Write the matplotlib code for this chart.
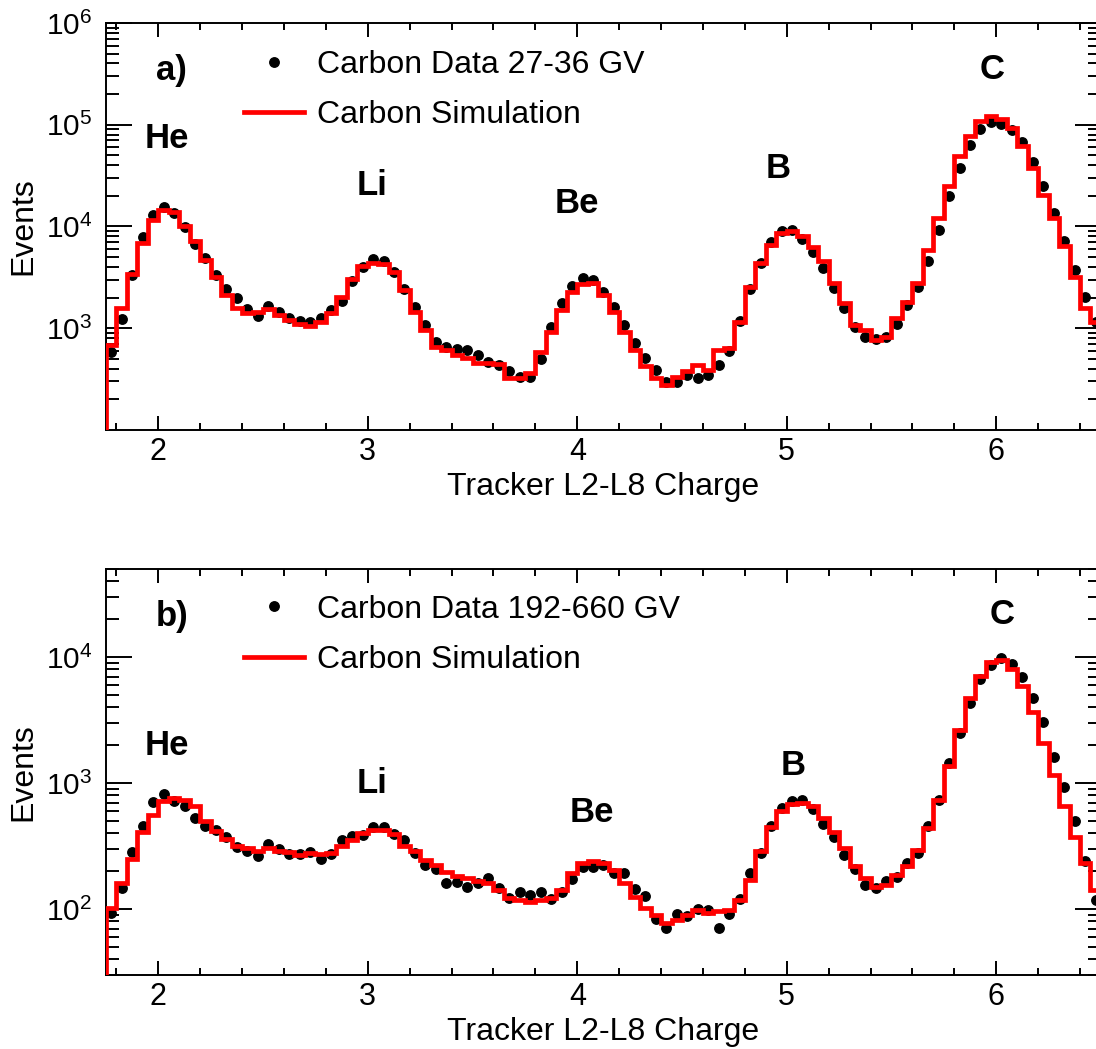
import numpy as np
import matplotlib
matplotlib.use("Agg")
import matplotlib.pyplot as plt
from matplotlib.ticker import FixedLocator, LogLocator, MultipleLocator, FuncFormatter, NullFormatter
from matplotlib.lines import Line2D

plt.rcParams['font.family'] = ['Liberation Sans', 'DejaVu Sans']
plt.rcParams['mathtext.fontset'] = 'custom'
plt.rcParams['mathtext.rm'] = 'Liberation Sans'

# charge histogram binning: 95 bins of 0.05 from 1.75 to 6.5
edges = np.round(np.arange(1.75, 6.5001, 0.05), 3)
centers = 0.5 * (edges[:-1] + edges[1:])

# a) 27-36 GV
data_a = [580, 1235, 3320, 7850, 12900, 15700, 13500, 9840, 6700, 4890,
          3350, 2420, 1975, 1550, 1322, 1670, 1460, 1255, 1190, 1163,
          1255, 1515, 1870, 2925, 4040, 4775, 4530, 3530, 2420, 1633,
          1078, 740, 661, 621, 612, 547, 470, 436, 383, 330,
          335, 499, 1038, 1762, 2630, 3107, 2946, 2260, 1633, 1078,
          712, 507, 389, 299, 299, 347, 327, 347, 436, 598,
          1190, 2420, 4360, 7110, 8930, 9140, 7570, 5600, 3890, 2475,
          1573, 1038, 815, 780, 828, 1104, 1698, 2570, 4530, 9270,
          19720, 37500, 63600, 91400, 106300, 102300, 87900, 67000, 42600, 25100,
          13700, 7280, 3750, 2005, 1163]
sim_a = [685, 1573, 3420, 6850, 11460, 14600, 13930, 10160, 7280, 4700,
         3220, 2130, 1573, 1406, 1460, 1540, 1352, 1208, 1104, 1054,
         1164, 1406, 2046, 3034, 4044, 4360, 4290, 3610, 2380, 1460,
         963, 661, 612, 547, 507, 453, 453, 446, 322, 322,
         361, 589, 927, 1515, 2245, 2730, 2773, 2130, 1460, 927,
         612, 430, 322, 277, 335, 383, 436, 389, 612, 636,
         1163, 2570, 4360, 6600, 8590, 9060, 8090, 6350, 4530, 2810,
         1762, 1078, 963, 768, 815, 1255, 1828, 2810, 5890, 12080,
         24720, 49500, 77900, 107900, 120800, 114600, 92700, 61200, 37500, 20500,
         12080, 6450, 3220, 1573, 1163]

# b) 192-660 GV
data_b = [94, 147, 282, 459, 706, 818, 728, 653, 527, 461,
          426, 377, 311, 290, 265, 330, 301, 275, 275, 282,
          249, 273, 355, 382, 389, 448, 448, 396, 355, 278,
          225, 209, 161, 164, 151, 161, 176, 147, 122, 138,
          130, 136, 120, 136, 173, 215, 215, 225, 193, 195,
          145, 128, 84, 71.5, 92, 87.5, 100, 99, 71.5, 92,
          120, 193, 278, 459, 634, 724, 738, 622, 476, 371,
          270, 207, 156, 147, 166, 180, 234, 278, 453, 738,
          1442, 2523, 4365, 6680, 8690, 9810, 8860, 6940, 4730, 3030,
          1608, 929, 497, 243, 119]
sim_b = [103, 161, 249, 406, 561, 724, 760, 738, 653, 497,
         419, 359, 318, 305, 287, 305, 292, 282, 270, 278,
         275, 278, 318, 355, 401, 426, 426, 396, 318, 287,
         246, 225, 199, 182, 176, 166, 161, 142, 122, 119,
         115, 119, 122, 142, 193, 232, 243, 232, 205, 161,
         126, 102, 90, 78, 82, 90, 99, 94, 96, 99,
         119, 171, 287, 448, 596, 681, 693, 661, 527, 406,
         305, 221, 176, 151, 156, 187, 221, 296, 440, 738,
         1356, 2620, 4730, 7110, 9080, 9530, 8040, 5850, 3640, 2075,
         1164, 653, 377, 232, 142]

elements = ['He', 'Li', 'Be', 'B', 'C']
elem_pos_a = [(2.04, 7.3e4), (3.02, 2.5e4), (4.0, 1.7e4), (4.96, 3.7e4), (5.98, 3.5e5)]
elem_pos_b = [(2.04, 2.0e3), (3.02, 1.0e3), (4.07, 5.9e2), (5.03, 1.39e3), (6.03, 2.2e4)]

panels = [
    dict(tag='a)', data=data_a, sim=sim_a, ylim=(1e2, 1e6), yticks=[1e3, 1e4, 1e5, 1e6],
         label='Carbon Data 27-36 GV', elem=elem_pos_a, leg_y=0.933,
         rect=[0.0967, 0.5901, 0.9078, 0.388]),
    dict(tag='b)', data=data_b, sim=sim_b, ylim=(30, 5e4), yticks=[1e2, 1e3, 1e4],
         label='Carbon Data 192-660 GV', elem=elem_pos_b, leg_y=0.937,
         rect=[0.0967, 0.0705, 0.9078, 0.387]),
]

fig = plt.figure(figsize=(10.96, 10.49), dpi=100)

for p in panels:
    ax = fig.add_axes(p['rect'])
    ax.set_yscale('log')
    ax.set_xlim(1.75, 6.5)
    ax.set_ylim(*p['ylim'])

    ax.plot(centers, p['data'], 'o', color='black', ms=6.8, zorder=2)
    ax.stairs(p['sim'], edges, baseline=p['ylim'][0], color='red', lw=3.4, zorder=3)

    for name, (x, y) in zip(elements, p['elem']):
        ax.text(x, y, name, ha='center', va='center', fontsize=25, fontweight='bold')
    ax.text(0.066, 0.884, p['tag'], transform=ax.transAxes, ha='center', va='center',
            fontsize=25, fontweight='bold')

    handles = [Line2D([], [], ls='none', marker='o', color='black', ms=6.8),
               Line2D([], [], color='red', lw=3.4)]
    ax.legend(handles, [p['label'], 'Carbon Simulation'], loc='upper left',
              bbox_to_anchor=(0.1387, p['leg_y']), frameon=False, borderpad=0,
              borderaxespad=0, handlelength=1.88, handletextpad=0.41,
              labelspacing=0.63, fontsize=23, numpoints=1)

    ax.xaxis.set_major_locator(MultipleLocator(1))
    ax.xaxis.set_minor_locator(MultipleLocator(0.2))
    ax.yaxis.set_major_locator(FixedLocator(p['yticks']))
    ax.yaxis.set_minor_locator(LogLocator(base=10, subs=np.arange(2, 10), numticks=100))
    ax.yaxis.set_major_formatter(FuncFormatter(lambda v, pos: r'$\mathregular{10^{%d}}$' % round(np.log10(v))))
    ax.yaxis.set_minor_formatter(NullFormatter())

    ax.tick_params(axis='both', which='both', direction='in', top=True, right=True,
                   width=1.4)
    ax.tick_params(axis='x', which='major', length=10, pad=5, labelsize=22)
    ax.tick_params(axis='x', which='minor', length=5)
    ax.tick_params(axis='y', which='major', length=19, pad=10, labelsize=21.5)
    ax.tick_params(axis='y', which='minor', length=9.5)
    for s in ax.spines.values():
        s.set_linewidth(1.4)

    ax.set_xlabel('Tracker L2-L8 Charge', fontsize=23)
    ax.set_ylabel('Events', fontsize=23)
    ax.xaxis.set_label_coords(0.5, -0.104)
    ax.yaxis.set_label_coords(-0.0684, 0.5)

plt.savefig('out.png', dpi=100)
